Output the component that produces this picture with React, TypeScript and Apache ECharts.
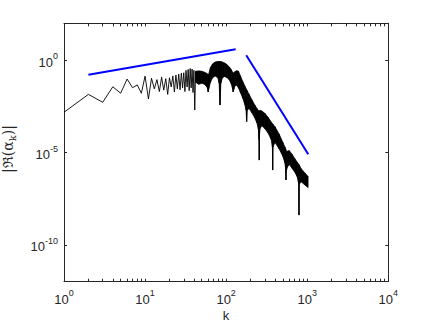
import React, { useEffect, useRef } from 'react';
import * as echarts from 'echarts';

// discrete low-k spectrum |Re(alpha_k)|
const zigK = [1, 2, 3, 4, 5, 6, 7, 8, 9, 10, 11, 12, 13, 14, 15, 16, 17, 18, 19, 20, 21, 22, 23, 24, 25, 26, 27, 28, 29, 30, 31, 32, 33, 34, 35, 36, 37, 38, 39, 40, 41, 42];
const zigVal = [1.51e-3, 1.41e-2, 5.25e-3, 3.63e-2, 1.62e-2, 9.55e-2, 3.24e-2, 4.57e-2, 1.62e-2, 0.138, 7.94e-3, 0.105, 2.82e-2, 8.91e-2, 2.0e-2, 0.12, 2.4e-2, 0.1, 1.41e-2, 0.112, 3.55e-2, 0.141, 1.9e-2, 0.158, 2.82e-2, 0.178, 2.51e-2, 0.2, 3.16e-2, 0.209, 2.0e-2, 0.282, 3.55e-2, 0.316, 2.24e-2, 0.355, 3.16e-2, 0.331, 1.78e-2, 0.282, 2.0e-3, 0.251];

// dense oscillation band: upper and lower envelopes (with spikes)
const bandK = [42, 46, 50, 54, 58, 59, 60, 61, 64, 68, 73, 79, 82, 84, 86, 90, 96, 103, 110, 116, 120, 122, 124, 128, 135, 142, 150, 160, 170, 176, 179, 182, 192, 208, 225, 240, 250, 254, 256, 258, 262, 275, 300, 330, 360, 372, 375, 378, 400, 450, 500, 530, 543, 547, 551, 575, 600, 650, 700, 750, 785, 791, 797, 850, 930, 1024];
const bandUpper = [0.251, 0.263, 0.251, 0.224, 0.191, 0.158, 0.112, 0.178, 0.398, 0.631, 0.794, 0.851, 0.851, 0.851, 0.851, 0.794, 0.708, 0.562, 0.417, 0.302, 0.224, 0.158, 0.209, 0.24, 0.269, 0.251, 0.141, 0.0708, 0.0398, 0.0282, 0.0245, 0.0219, 0.0141, 7.08e-3, 3.8e-3, 2.4e-3, 1.86e-3, 1.66e-3, 1.41e-3, 1.82e-3, 1.91e-3, 1.78e-3, 1.32e-3, 7.94e-4, 4.47e-4, 3.63e-4, 3.47e-4, 3.31e-4, 2.51e-4, 1e-4, 3.55e-5, 2.0e-5, 1.51e-5, 1.26e-5, 1e-5, 1.2e-5, 1.26e-5, 7.94e-6, 4.79e-6, 3.02e-6, 2.29e-6, 2.14e-6, 2.04e-6, 1.26e-6, 7.94e-7, 5.01e-7];
const bandLower = [0.0631, 0.0501, 0.0562, 0.0501, 0.0355, 0.0282, 0.0191, 0.0282, 0.0631, 0.112, 0.141, 0.112, 0.0562, 3.72e-3, 0.0562, 0.112, 0.132, 0.112, 0.0832, 0.0501, 0.0282, 0.0191, 0.0251, 0.0398, 0.0447, 0.0316, 0.0178, 8.91e-3, 3.98e-3, 2.0e-3, 4.68e-4, 2.0e-3, 2.4e-3, 1.41e-3, 7.59e-4, 3.98e-4, 1.78e-4, 5.01e-5, 3.89e-6, 1e-4, 2.0e-4, 2.82e-4, 2.0e-4, 1.12e-4, 5.01e-5, 2.0e-5, 1.12e-6, 2.0e-5, 3.55e-5, 1.58e-5, 6.31e-6, 2.82e-6, 1.26e-6, 3.24e-7, 1e-6, 1.78e-6, 2.24e-6, 1.41e-6, 8.91e-7, 5.01e-7, 2.0e-7, 4.07e-9, 2.0e-7, 2.51e-7, 1.78e-7, 1.26e-7];

// reference slopes (blue)
const slope1K = [2, 131];
const slope1V = [0.164, 3.9];
const slope2K = [177, 1030];
const slope2V = [1.84, 8e-6];

// axes (exponents of 10)
const xMinExp = 0;
const xMaxExp = 4;
const yMinExp = -12;
const yMaxExp = 2;
const xTickExp = [0, 1, 2, 3, 4];
const yTickExp = [-10, -5, 0];

const L = Math.log10;
const AX = '#262626';
const FONT = '"Liberation Sans", Arial, Helvetica, sans-serif';

export default function App() {
  const ref = useRef<HTMLDivElement>(null);
  useEffect(() => {
    if (!ref.current) return;
    const chart = echarts.init(ref.current, undefined, { renderer: 'svg' });

    const xMinor: number[] = [];
    for (let d = xMinExp; d < xMaxExp; d++) {
      for (let m = 1; m < 10; m++) xMinor.push(d + L(m));
    }
    xMinor.push(xMaxExp);

    const rich = {
      b: { fontSize: 13, fontFamily: FONT, color: AX, lineHeight: 17, verticalAlign: 'bottom' },
      s: { fontSize: 9, fontFamily: FONT, color: AX, lineHeight: 9, verticalAlign: 'top' },
    };
    const fmt = (v: number) => `{b|10}{s|${Math.round(v)}}`;
    const lineStyle = { color: AX, width: 1 };

    const xBase = {
      type: 'value', min: xMinExp, max: xMaxExp,
      axisLine: { show: true, onZero: false, lineStyle },
      axisTick: { show: true, inside: true, length: 3, customValues: xMinor, lineStyle },
      splitLine: { show: false },
    };
    const yBase = {
      type: 'value', min: yMinExp, max: yMaxExp,
      axisLine: { show: true, onZero: false, lineStyle },
      axisTick: { show: true, inside: true, length: 3, customValues: yTickExp, lineStyle },
      splitLine: { show: false },
    };

    // band segments: [x0, up0, lo0, x1, up1, lo1] in log space
    const bandSegs: number[][] = [];
    for (let i = 0; i < bandK.length - 1; i++) {
      bandSegs.push([
        L(bandK[i]), L(bandUpper[i]), L(bandLower[i]),
        L(bandK[i + 1]), L(bandUpper[i + 1]), L(bandLower[i + 1]),
      ]);
    }

    chart.setOption({
      animation: false,
      grid: { left: 64, top: 23.3, right: 40.7, bottom: 40.3, containLabel: false },
      xAxis: [
        { ...xBase, position: 'bottom', axisLabel: { customValues: xTickExp, formatter: fmt, rich, margin: 7 } },
        { ...xBase, position: 'top', axisLabel: { show: false } },
      ],
      yAxis: [
        { ...yBase, position: 'left', axisLabel: { customValues: yTickExp, formatter: fmt, rich, margin: 6 } },
        { ...yBase, position: 'right', axisLabel: { show: false } },
      ],
      graphic: [
        {
          type: 'text', x: 9, y: 149, rotation: Math.PI / 2,
          style: {
            text: '{a||ℜ(α}{s|k}{a|)|}',
            align: 'center', verticalAlign: 'middle',
            rich: {
              a: { fontSize: 14, fontFamily: '"DejaVu Serif", serif', fill: AX, lineHeight: 16, verticalAlign: 'top' },
              s: { fontSize: 10, fontFamily: '"DejaVu Serif", serif', fill: AX, lineHeight: 10, verticalAlign: 'bottom' },
            },
          },
        },
        {
          type: 'text', x: 226, y: 315,
          style: { text: 'k', fontSize: 13, fontFamily: FONT, fill: AX, align: 'center', verticalAlign: 'middle' },
        },
      ],
      series: [
        {
          type: 'line', name: 'spectrum', showSymbol: false, silent: true,
          data: zigK.map((k, i) => [L(k), L(zigVal[i])]),
          lineStyle: { color: '#000', width: 0.9 },
        },
        {
          type: 'custom', name: 'band', silent: true,
          data: bandSegs,
          encode: { x: [0, 3], y: [1, 2, 4, 5] },
          renderItem: (_params: any, api: any) => {
            const a = api.coord([api.value(0), api.value(1)]);
            const b = api.coord([api.value(3), api.value(4)]);
            const c = api.coord([api.value(3), api.value(5)]);
            const d = api.coord([api.value(0), api.value(2)]);
            return {
              type: 'polygon',
              shape: { points: [a, b, c, d] },
              style: { fill: '#000', stroke: '#000', lineWidth: 0.8 },
            };
          },
        },
        {
          type: 'line', name: 'slope1', showSymbol: false, silent: true,
          data: slope1K.map((k, i) => [L(k), L(slope1V[i])]),
          lineStyle: { color: '#0000ff', width: 2 },
        },
        {
          type: 'line', name: 'slope2', showSymbol: false, silent: true,
          data: slope2K.map((k, i) => [L(k), L(slope2V[i])]),
          lineStyle: { color: '#0000ff', width: 2 },
        },
      ],
    });
    return () => chart.dispose();
  }, []);
  return (
    <div
      ref={ref}
      style={{ position: 'fixed', left: 0, top: 0, width: 429, height: 322, background: '#fff' }}
    />
  );
}
